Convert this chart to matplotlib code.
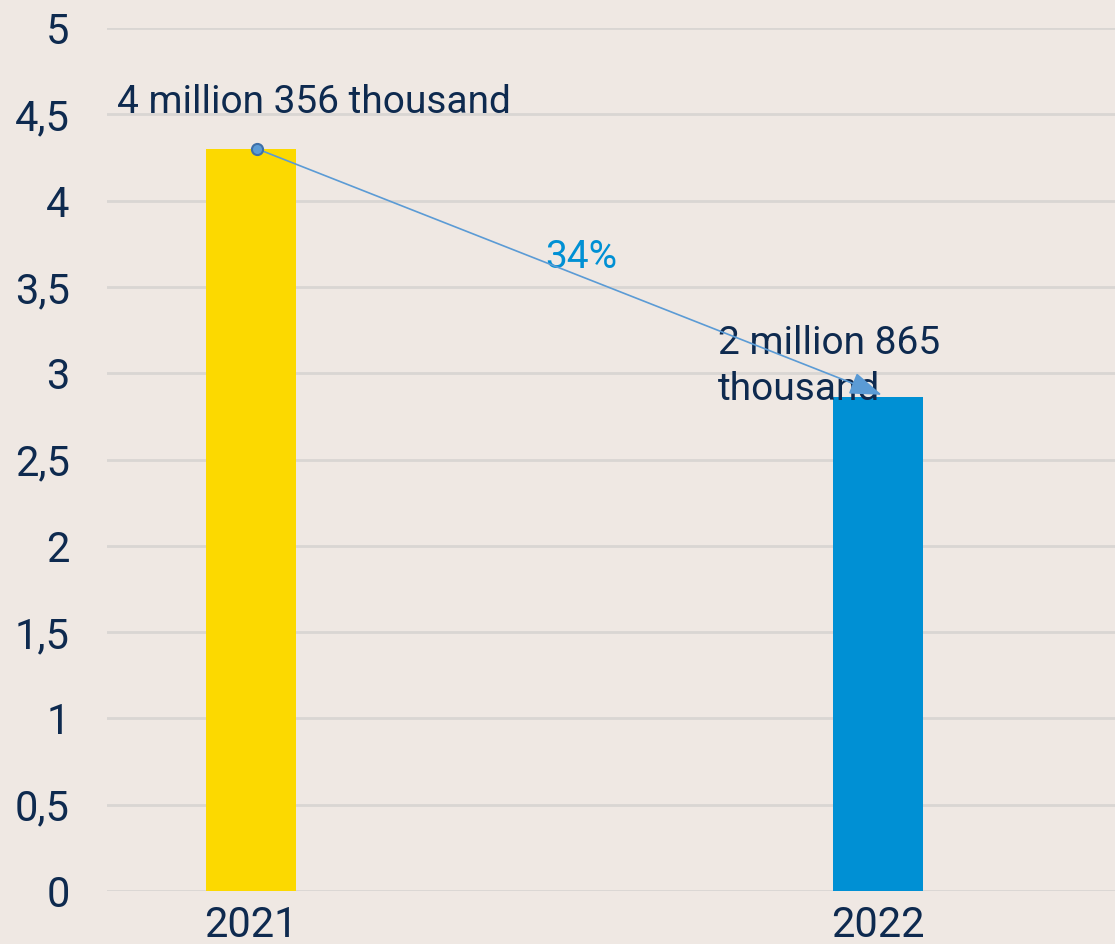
import matplotlib
matplotlib.use("Agg")
import matplotlib.pyplot as plt

years = ["2021", "2022"]
values = [4.3, 2.865]
bar_colors = ["#FCD900", "#0090D4"]
value_labels = ["4 million 356 thousand", "2 million 865\nthousand"]
change_label = "34%"
yticks = [0, 0.5, 1, 1.5, 2, 2.5, 3, 3.5, 4, 4.5, 5]
ytick_labels = ["0", "0,5", "1", "1,5", "2", "2,5", "3", "3,5", "4", "4,5", "5"]

bg = "#EFE8E3"
navy = "#0E2A4F"

plt.rcParams["font.family"] = ["Roboto", "DejaVu Sans"]

fig = plt.figure(figsize=(11.15, 9.44), dpi=100, facecolor=bg)
ax = fig.add_axes([0.096, 0.0561, 0.904, 0.9142], facecolor=bg)

x = list(range(len(years)))
ax.bar(x, values, width=0.1435, color=bar_colors, zorder=2)

ax.set_ylim(0, 5)
ax.set_xlim(-0.2297, 1.378)
ax.set_yticks(yticks)
ax.set_yticklabels(ytick_labels)
ax.set_xticks(x)
ax.set_xticklabels(years)
ax.tick_params(axis="both", length=0, labelsize=30, labelcolor=navy)
ax.tick_params(axis="y", pad=27)
ax.tick_params(axis="x", pad=10)
for s in ax.spines.values():
    s.set_visible(False)
ax.yaxis.grid(True, color="#D9D6D3", linewidth=2, zorder=0)
ax.set_axisbelow(True)

# value labels
ax.text(x[0] - 0.214, values[0] + 0.21, value_labels[0], fontsize=28, color=navy,
        ha="left", va="baseline", zorder=3)
ax.text(x[1] - 0.255, values[1] - 0.02, value_labels[1], fontsize=28, color=navy,
        ha="left", va="baseline", linespacing=1.32, zorder=3)

# trend arrow
ax.annotate("", xy=(x[1] + 0.006, values[1] + 0.01), xytext=(x[0] + 0.0096, values[0]),
            arrowprops=dict(arrowstyle="-|>,head_length=1.0,head_width=0.35",
                            mutation_scale=20,
                            color="#5B9BD5", lw=1.2, shrinkA=0, shrinkB=0),
            zorder=4)
ax.plot([x[0] + 0.0096], [values[0]], marker="o", markersize=8,
        markerfacecolor="#5B9BD5", markeredgecolor="#3E70A8", markeredgewidth=1.5,
        zorder=5, clip_on=False)
ax.text(0.47, 3.61, change_label, fontsize=28, color="#0090D4",
        ha="left", va="baseline", zorder=3)

fig.savefig("out.png", dpi=100, facecolor=bg)
